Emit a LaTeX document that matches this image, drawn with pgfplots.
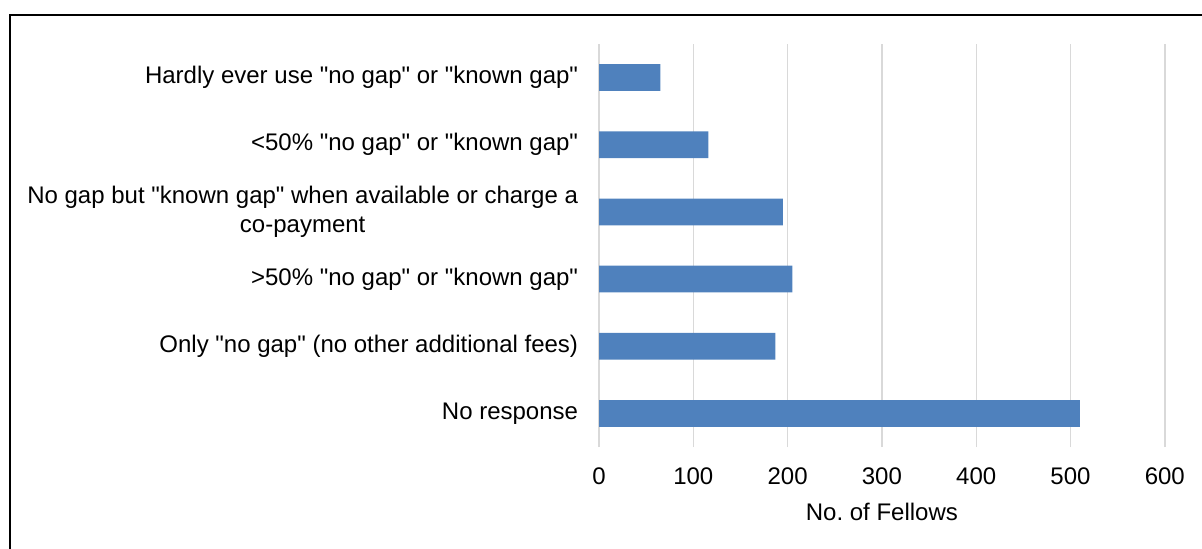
\documentclass[border=0pt]{standalone}
\usepackage{pgfplots}
\pgfplotsset{compat=1.18}
\usepackage{fontspec}
\setmainfont{Liberation Sans}[Ligatures=TeXOff]
\frenchspacing
\definecolor{barblue}{HTML}{4F81BD}
\definecolor{gridgray}{HTML}{D9D9D9}
\begin{document}
\begin{tikzpicture}
\useasboundingbox (0pt,0pt) rectangle (601pt,-274.5pt);
\draw[line width=1pt] (4.9pt,-274.5pt) -- (4.9pt,-7.6pt) -- (601pt,-7.6pt);
\begin{axis}[
  at={(299.5pt,-223.5pt)}, anchor=south west,
  width=282.9pt, height=201.5pt, scale only axis,
  xbar, bar width=13.35pt,
  xmin=0, xmax=600, ymin=-0.5, ymax=5.5,
  xtick={0,100,...,600},
  ytick={0,1,2,3,4,5},
  yticklabels={No response, Only "no gap" (no other additional fees), >50\% "no gap" or "known gap", {No gap but "known gap" when available or charge a\\co-payment}, <50\% "no gap" or "known gap", Hardly ever use "no gap" or "known gap"},
  axis line style={draw=none},
  major tick style={draw=none},
  xmajorgrids, grid style={gridgray, line width=0.7pt},
  font=\fontsize{12}{14.2}\selectfont,
  /pgf/number format/assume math mode=true,
  yticklabel style={inner sep=0pt, xshift=-6pt, align=center},
  xticklabel style={inner sep=0pt, yshift=-10pt},
  xlabel={No. of Fellows},
  xlabel style={at={(axis description cs:0.5,0)}, anchor=north, inner sep=0pt, yshift=-28pt},
]
\addplot[fill=barblue, draw=none] coordinates {(510,0) (187,1) (205,2) (195,3) (116,4) (65,5)};
\end{axis}
\end{tikzpicture}
\end{document}
